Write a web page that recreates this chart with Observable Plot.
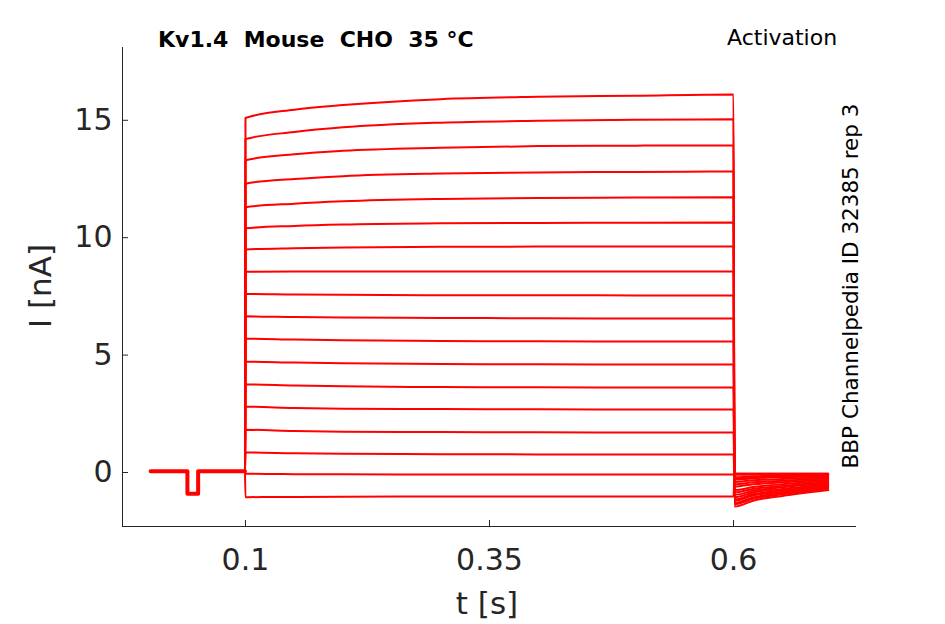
<!DOCTYPE html>
<html><head><meta charset="utf-8">
<script src="https://cdn.jsdelivr.net/npm/d3@7"></script>
<script src="https://cdn.jsdelivr.net/npm/@observablehq/plot@0.6"></script>
<style>
body{margin:0;background:#fff;font-family:"DejaVu Sans",sans-serif}
#wrap{position:relative;width:945px;height:624px}
.t{position:absolute;color:#000;white-space:nowrap}
</style></head><body>
<div id="wrap">
<div class="t" style="left:158px;top:27px;font-size:22px;font-weight:bold">Kv1.4&nbsp; Mouse&nbsp; CHO&nbsp; 35 °C</div>
<div class="t" style="left:727px;top:25px;font-size:22px">Activation</div>
<div class="t" style="left:850px;top:286px;font-size:21.5px;transform:translate(-50%,-50%) rotate(-90deg)">BBP Channelpedia ID 32385 rep 3</div>
</div>
<script>
const stepTimes = [0.1, 0.15, 0.2, 0.3, 0.4, 0.5, 0.6];
const stepValues = [
 [15.1,15.45,15.65,15.9,16.0,16.05,16.1],
 [14.2,14.5,14.7,14.9,14.98,15.02,15.04],
 [13.3,13.55,13.7,13.83,13.9,13.92,13.93],
 [12.3,12.5,12.62,12.73,12.78,12.8,12.82],
 [11.3,11.45,11.55,11.65,11.69,11.71,11.72],
 [10.4,10.5,10.56,10.61,10.63,10.64,10.65],
 [9.5,9.55,9.58,9.61,9.62,9.63,9.63],
 [8.55,8.56,8.56,8.56,8.56,8.56,8.56],
 [7.6,7.58,7.57,7.55,7.55,7.54,7.54],
 [6.65,6.62,6.6,6.58,6.57,6.56,6.56],
 [5.7,5.66,5.63,5.6,5.59,5.58,5.58],
 [4.72,4.68,4.65,4.62,4.61,4.6,4.6],
 [3.75,3.7,3.67,3.64,3.63,3.62,3.62],
 [2.8,2.75,2.72,2.7,2.69,2.68,2.68],
 [1.82,1.77,1.74,1.72,1.71,1.70,1.70],
 [0.85,0.82,0.8,0.78,0.77,0.77,0.77],
 [-0.05,-0.07,-0.08,-0.09,-0.09,-0.09,-0.09],
 [-1.05,-1.04,-1.03,-1.02,-1.02,-1.02,-1.02]
];
const tailTimes = [0.601, 0.62, 0.65, 0.697];
const tailValues = [
 [-1.45,-1.2,-1.0,-0.75],[-1.35,-1.12,-0.93,-0.7],[-1.3,-1.06,-0.88,-0.65],
 [-1.2,-0.98,-0.82,-0.6],[-1.15,-0.93,-0.76,-0.55],[-1.05,-0.85,-0.7,-0.5],
 [-0.95,-0.78,-0.63,-0.45],[-0.85,-0.7,-0.57,-0.4],[-0.75,-0.62,-0.5,-0.35],
 [-0.6,-0.5,-0.42,-0.3],[-0.5,-0.42,-0.35,-0.25],[-0.4,-0.33,-0.28,-0.2],
 [-0.3,-0.25,-0.2,-0.15],[-0.25,-0.2,-0.16,-0.12],[-0.2,-0.16,-0.13,-0.1],
 [-0.1,-0.09,-0.08,-0.08],[-0.05,-0.05,-0.05,-0.05],[-0.05,-0.05,-0.05,-0.05]
];
const holdTimes = [0.0028, 0.0405, 0.0405, 0.0515, 0.0515, 0.0995];
const holdValues = [0.05, 0.05, -0.9, -0.9, 0.05, 0.05];
const xTicks = [0.1, 0.35, 0.6];
const yTicks = [0, 5, 10, 15];

const rows = [];
stepValues.forEach((vals, k) => {
  rows.push({k, t: holdTimes[holdTimes.length - 1], v: holdValues[holdValues.length - 1]});
  stepTimes.forEach((t, i) => rows.push({k, t, v: vals[i]}));
  tailTimes.forEach((t, i) => rows.push({k, t, v: tailValues[k][i]}));
});
const hold = holdTimes.map((t, i) => ({t, v: holdValues[i]}));

const plot = Plot.plot({
  width: 945, height: 624,
  marginLeft: 122, marginRight: 89, marginTop: 47, marginBottom: 98,
  style: {fontFamily: "DejaVu Sans, sans-serif", color: "#262626", background: "transparent"},
  x: {domain: [-0.026, 0.726], ticks: xTicks, tickFormat: d => String(d), label: null},
  y: {domain: [-2.3, 18.1], ticks: yTicks, label: null},
  marks: [
    Plot.line(hold, {x: "t", y: "v", stroke: "red", strokeWidth: 4}),
    Plot.line(rows, {x: "t", y: "v", z: "k", stroke: "red", strokeWidth: 2, curve: "monotone-x"}),
    Plot.ruleX([-0.026], {stroke: "#262626"}),
    Plot.ruleY([-2.3], {stroke: "#262626"}),
    Plot.axisX({ticks: xTicks, tickFormat: d => String(d), tickSize: -6, tickPadding: 28, fontSize: 30, label: null, stroke: "#262626"}),
    Plot.axisY({ticks: yTicks, tickSize: -6, tickPadding: 16, fontSize: 30, label: null, stroke: "#262626"})
  ]
});
const w = document.getElementById("wrap");
plot.style.position = "absolute"; plot.style.left = "0"; plot.style.top = "0";
w.prepend(plot);
const xl = document.createElement("div"); xl.className = "t";
xl.style.cssText = "left:487px;top:603px;font-size:31px;color:#262626;transform:translate(-50%,-50%)";
xl.textContent = "t [s]"; w.appendChild(xl);
const yl = document.createElement("div"); yl.className = "t";
yl.style.cssText = "left:40px;top:286px;font-size:31px;color:#262626;transform:translate(-50%,-50%) rotate(-90deg)";
yl.textContent = "I [nA]"; w.appendChild(yl);
</script>
</body></html>
